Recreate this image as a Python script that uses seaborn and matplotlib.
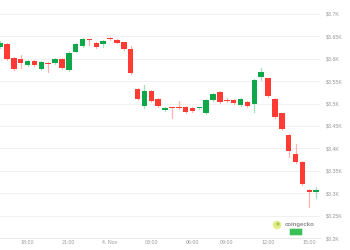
import numpy as np
import pandas as pd
import matplotlib
matplotlib.use("Agg")
import matplotlib.pyplot as plt
import seaborn as sns
from matplotlib.patches import Circle, FancyBboxPatch
from matplotlib.transforms import IdentityTransform

# ---- data (30-minute candles) ----
opens = [3627, 3633, 3601, 3599, 3585, 3596, 3577, 3590, 3590, 3600,
         3575, 3616, 3629, 3643, 3635, 3633, 3645, 3642, 3637, 3622,
         3533, 3495, 3528, 3510, 3485, 3491, 3491, 3493, 3490, 3489,
         3479, 3508, 3526, 3508, 3508, 3497, 3504, 3499, 3559, 3556,
         3510, 3478, 3430, 3388, 3369, 3307, 3303]
closes = [3636, 3599, 3577, 3590, 3595, 3586, 3592, 3588, 3600, 3579,
          3612, 3633, 3644, 3641, 3627, 3640, 3643, 3636, 3622, 3569,
          3510, 3528, 3506, 3495, 3491, 3489, 3489, 3482, 3483, 3491,
          3508, 3521, 3504, 3506, 3501, 3510, 3495, 3553, 3571, 3517,
          3469, 3443, 3395, 3370, 3321, 3303, 3306]
highs = [3640, 3636, 3603, 3608, 3597, 3598, 3594, 3592, 3602, 3602,
         3618, 3636, 3646, 3645, 3637, 3642, 3648, 3644, 3638, 3629,
         3535, 3542, 3530, 3512, 3493, 3493, 3506, 3495, 3492, 3493,
         3510, 3523, 3528, 3512, 3510, 3512, 3506, 3555, 3579, 3558,
         3512, 3480, 3432, 3410, 3371, 3309, 3313]
lows = [3624, 3597, 3575, 3580, 3583, 3584, 3575, 3571, 3588, 3577,
        3573, 3614, 3627, 3631, 3625, 3626, 3641, 3634, 3620, 3567,
        3508, 3490, 3504, 3493, 3483, 3467, 3487, 3480, 3481, 3487,
        3477, 3506, 3502, 3503, 3499, 3495, 3493, 3481, 3553, 3515,
        3467, 3441, 3380, 3368, 3319, 3269, 3289]

x_tick_positions = [4, 10, 16, 22, 28, 33, 39, 45]
x_tick_labels = ["18:00", "21:00", "4. Nov", "03:00", "06:00", "09:00", "12:00", "15:00"]
y_tick_values = [3200, 3250, 3300, 3350, 3400, 3450, 3500, 3550, 3600, 3650, 3700]
y_tick_labels = ["$3.2K", "$3.25K", "$3.3K", "$3.35K", "$3.4K", "$3.45K",
                 "$3.5K", "$3.55K", "$3.6K", "$3.65K", "$3.7K"]

UP = "#0ea84a"
DOWN = "#ff3b33"
UP_WICK = "#a6dfba"
DOWN_WICK = "#ffb3b0"

sns.set_theme(style="white")
plt.rcParams["font.family"] = ["Liberation Sans", "DejaVu Sans"]

fig = plt.figure(figsize=(3.5, 2.5), dpi=100)
ax = fig.add_axes([0, 12 / 250, 320 / 350, 238 / 250])

o = np.array(opens, dtype=float)
c = np.array(closes, dtype=float)
idx = np.arange(len(o))
up = c >= o

wick_df = pd.DataFrame({
    "k": np.concatenate([idx, idx]),
    "price": np.concatenate([highs, lows]),
    "dir": np.where(np.concatenate([up, up]), "up", "down"),
})
sns.lineplot(data=wick_df, x="k", y="price", units="k", estimator=None,
             hue="dir", palette={"up": UP_WICK, "down": DOWN_WICK},
             linewidth=0.9, legend=False, ax=ax, zorder=2)

body_bottom = np.minimum(o, c)
body_height = np.maximum(np.abs(c - o), 2.3)
ax.bar(idx, body_height, bottom=body_bottom, width=0.8,
       color=[UP if u else DOWN for u in up], linewidth=0, zorder=3)

ax.set_xlim(-0.02, 46.56)
ax.set_ylim(3200, 3731)

ax.set_yticks(y_tick_values)
ax.set_yticklabels(y_tick_labels)
ax.yaxis.tick_right()
ax.set_xticks(x_tick_positions)
ax.set_xticklabels(x_tick_labels)
ax.tick_params(axis="y", length=0, pad=4.3, labelsize=3.8, colors="#999999")
ax.tick_params(axis="x", length=0, pad=1.8, labelsize=3.8, colors="#999999")
ax.set_xlabel("")
ax.set_ylabel("")

ax.yaxis.grid(True, color="#f0f0f0", linewidth=0.7, zorder=0)
ax.xaxis.grid(False)
ax.set_axisbelow(True)
for name, sp in ax.spines.items():
    sp.set_visible(name == "bottom")
ax.spines["bottom"].set_color("#e8e8e8")
ax.spines["bottom"].set_linewidth(0.7)

# watermark (pixel coordinates, origin bottom-left)
fig.patches.append(Circle((277, 250 - 225), 4.3, transform=IdentityTransform(),
                          facecolor="#e4ea7c", edgecolor="none", alpha=0.9,
                          figure=fig))
fig.patches.append(Circle((278, 250 - 224), 1.6, transform=IdentityTransform(),
                          facecolor="#8cc63f", edgecolor="none", alpha=0.8,
                          figure=fig))
fig.text(285 / 350, 1 - 224.5 / 250, "coingecko", fontsize=4.3,
         fontweight="bold", color="#8c8c8c", va="center", ha="left")
fig.patches.append(FancyBboxPatch((290, 250 - 235), 12, 6,
                                  boxstyle="round,pad=0.3",
                                  transform=IdentityTransform(),
                                  facecolor="#3cc157", edgecolor="none",
                                  figure=fig))

fig.savefig("out.png", dpi=100)
